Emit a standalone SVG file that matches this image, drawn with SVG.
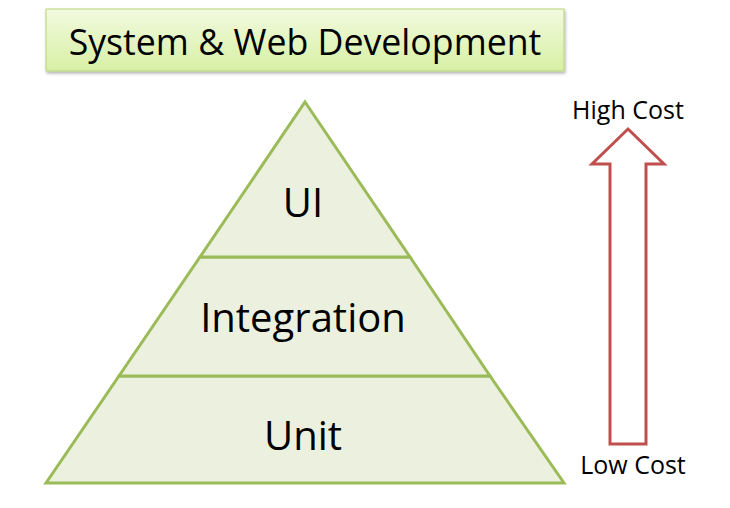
<svg xmlns="http://www.w3.org/2000/svg" width="730" height="508" viewBox="0 0 730 508">
<style>
.t{font-family:"Open Sans","Noto Sans","Liberation Sans",sans-serif;fill:#000}
.layer{fill:#ebf1de;stroke:#9bbb59;stroke-width:3;stroke-linejoin:miter}
.lbl{font-size:40px;text-anchor:middle}
.cost{font-size:25px;text-anchor:middle}
</style>
<defs>
<linearGradient id="g" x1="0" y1="0" x2="0" y2="1">
<stop offset="0" stop-color="#f2fadf"/>
<stop offset="1" stop-color="#d7f0a4"/>
</linearGradient>
<filter id="sh" x="-5%" y="-20%" width="110%" height="150%">
<feDropShadow dx="1" dy="2" stdDeviation="1.5" flood-color="#000" flood-opacity="0.3"/>
</filter>
</defs>
<rect width="730" height="508" fill="#fff"/>
<g id="title">
<rect x="46" y="9" width="518" height="62" fill="url(#g)" stroke="#b7d37f" stroke-width="1" filter="url(#sh)"/>
<text class="t" x="305" y="55" font-size="35.7" text-anchor="middle">System &amp; Web Development</text>
</g>
<g id="unit">
<polygon class="layer" points="119,376 490,376 564,483 46,483"/>
<text class="t lbl" x="303" y="450">Unit</text>
</g>
<g id="integration">
<polygon class="layer" points="200,257 410,257 490,376 119,376"/>
<text class="t lbl" x="303" y="332">Integration</text>
</g>
<g id="ui">
<polygon class="layer" points="305,102 410,257 200,257"/>
<text class="t lbl" x="303" y="217">UI</text>
</g>
<g id="connectors">
<polygon points="628,129 664,164 646,164 646,444 610,444 610,164 592,164" fill="#fff" stroke="#c0504d" stroke-width="3"/>
</g>
<g id="labels">
<text class="t cost" x="628" y="119">High Cost</text>
<text class="t cost" x="633" y="474">Low Cost</text>
</g>
</svg>
